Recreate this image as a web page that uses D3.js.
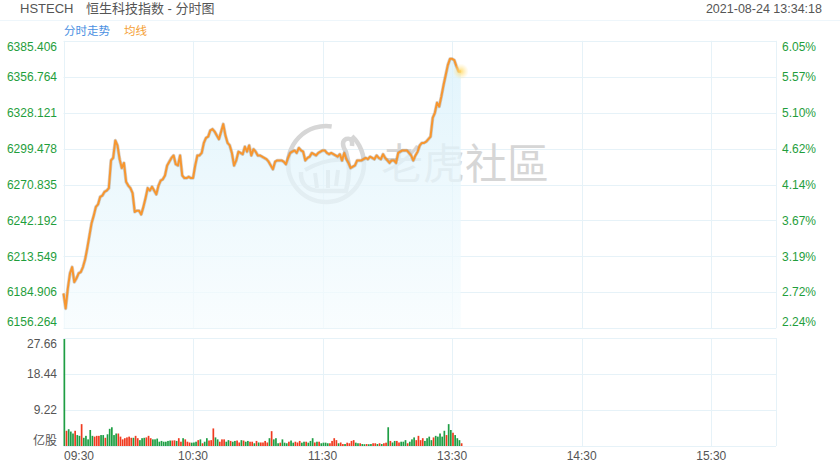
<!DOCTYPE html>
<html><head><meta charset="utf-8">
<script src="https://cdn.jsdelivr.net/npm/d3@7/dist/d3.min.js"></script>
<style>body{margin:0;background:#fff}svg{display:block}</style>
</head><body>
<svg id="c" width="840" height="470"></svg>
<script>
// ---- data ----
const prices = [6184,6172,6188,6200,6205,6193,6196,6200,6201,6205,
6211,6220,6230,6240,6246,6253,6255,6261,6262,6265,
6266,6268,6290,6292,6306,6302,6291,6284,6288,6273,
6270,6268,6264,6249,6250,6250,6247,6253,6260,6268,
6266,6269,6266,6263,6270,6274,6275,6278,6286,6289,
6292,6294,6287,6286,6294,6278,6276,6276,6277,6276,
6276,6286,6294,6294,6296,6304,6308,6309,6314,6315,
6313,6310,6307,6313,6319,6310,6304,6302,6296,6286,
6290,6297,6296,6295,6301,6297,6302,6294,6299,6297,
6294,6294,6293,6292,6291,6289,6286,6283,6289,6290,
6290,6290,6289,6287,6292,6296,6297,6298,6296,6300,
6298,6297,6290,6292,6293,6296,6295,6294,6296,6297,
6298,6298,6296,6295,6296,6295,6294,6293,6295,6290,
6296,6291,6288,6284,6285,6286,6290,6290,6290,6291,
6292,6291,6293,6292,6291,6294,6292,6291,6295,6292,
6290,6288,6290,6290,6288,6296,6297,6298,6298,6298,
6296,6294,6290,6294,6297,6302,6304,6304,6305,6307,
6309,6324,6328,6336,6333,6341,6350,6358,6366,6371,
6371,6370,6365,6361,6361];
const volumes = [27.4,3.9,4.3,3.7,3.2,3.9,2.8,2.6,5.6,2.1,
2.6,1.7,4.1,2.6,2.4,2.6,2.6,2.8,2.8,2.1,
3.0,4.4,4.8,2.8,3.2,3.2,2.4,1.7,2.0,2.2,
2.4,2.1,2.1,2.6,2.0,1.5,2.0,2.1,2.2,2.6,
2.0,1.7,1.7,1.9,1.1,1.3,1.1,1.1,1.3,1.4,
1.4,1.45,1.3,2.0,1.1,2.0,1.7,1.1,0.9,0.85,
0.9,1.1,1.5,1.7,0.7,1.1,2.0,1.4,1.5,4.5,
2.2,1.7,1.1,1.7,1.7,1.1,1.5,1.3,1.1,1.3,
1.4,0.9,1.5,1.4,1.1,1.3,1.1,1.1,0.7,1.3,
0.9,0.9,0.9,1.3,0.9,2.0,3.8,1.7,2.0,0.7,
0.85,1.7,0.85,0.7,1.1,1.4,0.85,1.1,0.9,1.3,
0.85,1.1,1.1,0.85,1.3,2.0,0.9,1.1,1.1,0.7,
0.85,0.85,0.7,0.7,1.3,2.0,1.5,0.7,0.9,0.5,
0.5,0.85,0.7,1.3,1.5,0.85,0.7,0.7,0.5,0.45,
0.5,0.45,0.5,0.7,0.7,0.5,0.7,0.5,0.7,0.85,
4.8,1.3,0.9,1.3,1.3,0.9,1.1,1.1,1.5,0.7,
1.1,1.7,2.2,1.5,2.6,1.5,2.0,1.3,2.0,2.4,
1.5,2.2,2.6,2.4,3.2,2.4,3.9,2.8,5.6,4.1,
3.4,2.8,2.0,1.5,0.7];
const volDir = "grggg rggrg ggggr rrggr gggg grrrr rrrgr rggg rrrgg gggg gggrr grrg rrrggg rgrgg rrrgg rrrgg rggrr grggr rgrgr rrrgr gggrg ggrgg rrrgg rgggr grgggg rrrrg rrgrr rrggr ggrgg rrgrg rrgrgg rrggg rgggr rrrgg ggrgg gggrg grggg rrrrg";
const priceTicks = [6156.264,6184.906,6213.549,6242.192,6270.835,6299.478,6328.121,6356.764,6385.406];
const pctTicks = ["2.24%","2.72%","3.19%","3.67%","4.14%","4.62%","5.10%","5.57%","6.05%"];
const volTicks = [0,9.22,18.44,27.66];
const timeLabels = ["09:30","10:30","11:30","13:30","14:30","15:30"];
const timeIdx = [0,60,120,180,240,300];
const totalMinutes = 330;

// ---- drawing ----
const dirs = volDir.replace(/\s+/g,"").split("");
const svg = d3.select("#c");
const font = "Arial, 'Liberation Sans', 'Noto Sans CJK SC', sans-serif";
const L = 63.5, R = 776;
const x = d3.scaleLinear().domain([0,totalMinutes]).range([L,R]);
const y = d3.scaleLinear().domain([priceTicks[0], priceTicks[priceTicks.length-1]]).range([328.2,40.8]);
const yv = d3.scaleLinear().domain([0,27.66]).range([446,338]);
const grid = "#e6f2f8";

// header
svg.append("line").attr("x1",0).attr("x2",840).attr("y1",20.5).attr("y2",20.5).attr("stroke","#eef6fb");
svg.append("text").attr("x",20).attr("y",12.5).attr("font-family",font).attr("font-size",13).attr("fill","#555").text("HSTECH");
svg.append("text").attr("x",86).attr("y",12.5).attr("font-family",font).attr("font-size",13).attr("fill","#555").text("恒生科技指数 - 分时图");
svg.append("text").attr("x",822).attr("y",12.5).attr("text-anchor","end").attr("font-family",font).attr("font-size",12.5).attr("fill","#555").text("2021-08-24 13:34:18");
svg.append("text").attr("x",64).attr("y",35).attr("font-family",font).attr("font-size",11.5).attr("fill","#4a90e2").text("分时走势");
svg.append("text").attr("x",124).attr("y",35).attr("font-family",font).attr("font-size",11.5).attr("fill","#f5a033").text("均线");

// grids
const gp = svg.append("g");
priceTicks.forEach(t=>{
  gp.append("line").attr("x1",L).attr("x2",R).attr("y1",Math.round(y(t))+0.5).attr("y2",Math.round(y(t))+0.5).attr("stroke",grid);
});
volTicks.forEach(t=>{
  gp.append("line").attr("x1",L).attr("x2",R).attr("y1",Math.round(yv(t))+0.5).attr("y2",Math.round(yv(t))+0.5).attr("stroke",grid);
});
[0,60,120,180,240,300,330].forEach(i=>{
  const xx = Math.round(x(i))+0.5;
  gp.append("line").attr("x1",xx).attr("x2",xx).attr("y1",y.range()[1]).attr("y2",y.range()[0]).attr("stroke",grid);
  gp.append("line").attr("x1",xx).attr("x2",xx).attr("y1",yv(27.66)).attr("y2",yv(0)).attr("stroke",grid);
});

// watermark
const wm = svg.append("g").attr("fill","none").attr("stroke","#d6d6d6");
wm.append("path").attr("stroke-width",4.5).attr("d", d3.arc()({innerRadius:38,outerRadius:38,startAngle:0.75,endAngle:2*Math.PI+0.15})).attr("transform","translate(326,164)");
wm.append("path").attr("stroke-width",4.5).attr("d","M301,172 Q300,190 320,191 L346,191 Q352,170 346,152 Q340,142 346,139 Q353,137 352,146");
wm.append("path").attr("stroke-width",4).attr("d","M305,170 Q326,158 344,160");
wm.append("path").attr("stroke-width",4).attr("d","M315,173 L317,188 M328,170 L328,188 M338,170 L336,186");
svg.append("text").attr("x",381).attr("y",179).attr("font-family","'Noto Sans CJK SC','Noto Sans CJK TC',sans-serif").attr("font-size",42).attr("fill","#d6d6d6").text("老虎社區");

// area + line
const pts = prices.map((p,i)=>[x(i),y(p)]);
const defs = svg.append("defs");
const lg = defs.append("linearGradient").attr("id","ag").attr("x1",0).attr("x2",0).attr("y1",0).attr("y2",1);
lg.append("stop").attr("offset","0%").attr("stop-color","#d9f1fb").attr("stop-opacity",0.95);
lg.append("stop").attr("offset","100%").attr("stop-color","#f6fcfe").attr("stop-opacity",0.9);
const area = d3.area().x(d=>d[0]).y0(y.range()[0]).y1(d=>d[1]);
svg.append("path").attr("d",area(pts)).attr("fill","url(#ag)").attr("fill-opacity",0.8);
const line = d3.line().x(d=>d[0]).y(d=>d[1]);
svg.append("path").attr("d",line(pts)).attr("fill","none").attr("stroke","#8a7a6a").attr("stroke-opacity",0.35).attr("stroke-width",3.4).attr("stroke-linejoin","round");
svg.append("path").attr("d",line(pts)).attr("fill","none").attr("stroke","#f7962f").attr("stroke-width",2).attr("stroke-linejoin","round");
const rg = defs.append("radialGradient").attr("id","glow");
rg.append("stop").attr("offset","0%").attr("stop-color","#ffd966").attr("stop-opacity",0.9);
rg.append("stop").attr("offset","100%").attr("stop-color","#ffe9a0").attr("stop-opacity",0);
const last = pts[pts.length-1];
svg.append("circle").attr("cx",last[0]).attr("cy",last[1]).attr("r",8).attr("fill","url(#glow)");

// volume bars
svg.append("g").selectAll("rect").data(volumes).join("rect")
  .attr("x",(d,i)=>x(i)).attr("width",1.7)
  .attr("y",d=>yv(d)).attr("height",d=>yv(0)-yv(d))
  .attr("fill",(d,i)=>dirs[i]==="r"?"#f03a1f":"#1e9e44");

// axes labels
const ta = svg.append("g").attr("font-family",font).attr("font-size",12);
priceTicks.forEach((t,i)=>{
  const n = priceTicks.length-1;
  let yy = y(t);
  if(i===n) yy += 6; else if(i===0) yy -= 6;
  ta.append("text").attr("x",57).attr("y",yy).attr("dy","0.35em").attr("text-anchor","end").attr("fill","#1f9e3c").text(t.toFixed(3));
  ta.append("text").attr("x",782).attr("y",yy).attr("dy","0.35em").attr("fill","#1f9e3c").text(pctTicks[i]);
});
volTicks.forEach((t,i)=>{
  let yy = yv(t);
  if(i===0) yy -= 5; else if(i===volTicks.length-1) yy += 5.5;
  ta.append("text").attr("x",57).attr("y",yy).attr("dy","0.35em").attr("text-anchor","end").attr("fill","#555").text(i===0?"亿股":t.toFixed(2));
});
timeLabels.forEach((s,i)=>{
  const xx = x(timeIdx[i]);
  ta.append("text").attr("x",i===0?xx+0.5:xx).attr("y",460).attr("text-anchor",i===0?"start":"middle").attr("fill","#555").text(s);
});
</script>
</body></html>
